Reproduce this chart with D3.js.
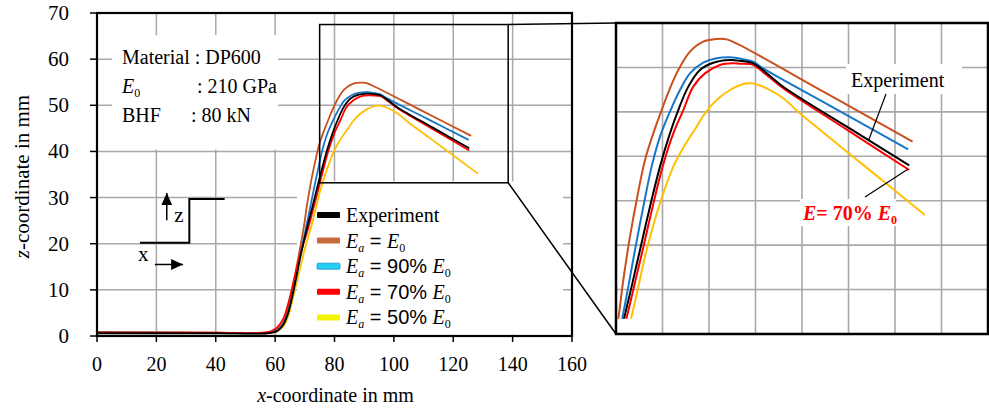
<!DOCTYPE html>
<html><head><meta charset="utf-8">
<script src="https://cdn.jsdelivr.net/npm/d3@7"></script>
<style>body{margin:0;background:#fff} svg{display:block}</style>
</head><body><svg id="c" width="989" height="411"></svg>
<script>
// ---------- data ----------
const xTicks = [0, 20, 40, 60, 80, 100, 120, 140, 160];
const zTicks = [0, 10, 20, 30, 40, 50, 60, 70];
const seriesKeys = ["ea50", "ea100", "ea90", "ea70", "experiment"];

const experiment = [[0,0.6],[20,0.6],[40,0.6],[57.5,0.6],[60.5,1.0],[62.4,2.1],[64.1,4.4],[65.6,8],[67.1,12.6],[68.8,18],[70.8,23.6],[72.2,27.1],[73.8,31.2],[75.71,36.06],[77.63,40.56],[79.54,44.3],[81.14,46.92],[83.06,49.55],[85.29,51.42],[87.85,52.24],[91.04,52.54],[92.95,52.46],[95.5,52.17],[97.74,51.23],[101.25,49.54],[113.3,45.1],[125.4,40.7]];
const ea100 = [[0,0.9],[20,0.8],[40,0.7],[57,0.7],[60,1.1],[62,2.2],[63.7,4.4],[65.1,8],[66.5,12.6],[68.1,18],[69.65,23.52],[70.6,27.82],[71.88,32.69],[73.16,36.81],[74.76,41.31],[76.35,44.3],[77.95,46.92],[79.54,49.36],[81.14,51.42],[83.38,53.48],[85.93,54.6],[88.48,54.9],[90.4,54.86],[92.3,54.4],[109.2,48.9],[126.04,43.36]];
const ea90 = [[0,0.7],[20,0.7],[40,0.65],[57.3,0.65],[60.3,1.1],[62.3,2.2],[64,4.4],[65.4,8],[66.9,12.6],[68.6,18],[70.41,23.52],[71.56,27.07],[72.84,31.19],[74.44,36.06],[76.03,40.56],[77.63,43.93],[79.54,46.74],[81.46,49.17],[83.38,51.04],[85.93,52.24],[88.48,52.73],[91.04,52.84],[93.59,52.62],[95.5,52.35],[97.4,51.6],[111.3,47.05],[125.2,42.5]];
const ea70 = [[0,0.7],[20,0.7],[40,0.7],[55.5,0.7],[58.5,1.0],[60.8,1.9],[62.8,3.8],[64.6,7.5],[66.4,12.3],[68.6,18],[71.05,23.14],[72.65,27.07],[74.31,31.19],[76.22,36.06],[78.14,40.56],[80.18,44.3],[82.1,46.92],[84.01,49.55],[86.25,51.04],[89.12,51.98],[91.68,52.17],[93.0,52.12],[95.5,51.98],[98.07,50.86],[101.25,49.36],[113.3,44.77],[125.4,40.18]];
const ea50 = [[0,0.8],[20,0.75],[40,0.65],[58,0.65],[61,1.1],[63,2.3],[64.6,4.6],[66,8.2],[68,13.5],[70.3,19.6],[72.2,23.78],[73.48,27.07],[75.07,31.19],[77.63,36.44],[80.18,40.56],[82.42,42.99],[84.65,45.05],[86.25,46.55],[88.48,48.05],[91.04,49.17],[93.6,49.85],[95.2,49.92],[98.07,49.36],[101.25,48.24],[104.45,46.55],[116.4,40.84],[128.4,35.13]];

const seriesData = {experiment, ea100, ea90, ea70, ea50};
const curveColor = {experiment:"#000000", ea100:"#c8501e", ea90:"#1677c8", ea70:"#ff0000", ea50:"#ffc000"};
const legendColor = {experiment:"#000000", ea100:"#c8693c", ea90:"#22d0f4", ea70:"#ff0000", ea50:"#f4f400"};
const legendOrder = ["experiment", "ea100", "ea90", "ea70", "ea50"];

// zoom window (main plot data units) and inset domain
const zoomBoxX = [75, 138.5], zoomBoxZ = [33.2, 67.5];
const insetX = [69.2, 140.5], insetZ = [21.75, 56.7];
const insetCols = 8, insetRows = 7;

// ---------- layout ----------
const svg = d3.select("#c");
const defs = svg.append("defs");
const serif = "'Liberation Serif','Times New Roman',serif";
const sans = "'Liberation Sans',Arial,sans-serif";
const M = {l:97, r:572, t:13, b:336};
const x = d3.scaleLinear().domain([0,160]).range([M.l, M.r]);
const z = d3.scaleLinear().domain([0,70]).range([M.b, M.t]);
const I = {l:616, r:988, t:23, b:334};
const xi = d3.scaleLinear().domain(insetX).range([I.l, I.r]);
const zi = d3.scaleLinear().domain(insetZ).range([I.b, I.t]);
const gridColor = "#a8a8a8";

// main grid
const g = svg.append("g");
g.selectAll(".vg").data(xTicks.slice(1,-1)).join("line")
  .attr("x1", d=>x(d)).attr("x2", d=>x(d)).attr("y1", M.t).attr("y2", M.b)
  .attr("stroke", gridColor).attr("stroke-width", 1.5);
g.selectAll(".hg").data(zTicks.slice(1,-1)).join("line")
  .attr("x1", M.l).attr("x2", M.r).attr("y1", d=>z(d)).attr("y2", d=>z(d))
  .attr("stroke", gridColor).attr("stroke-width", 1.5);

// white boxes (annotation, legend)
g.append("rect").attr("x", x(5)).attr("y", z(65.2)).attr("width", x(61)-x(5)).attr("height", z(40.4)-z(65.2)).attr("fill","#fff");
g.append("rect").attr("x", x(67.4)).attr("y", z(33.5)).attr("width", x(157)-x(67.4)).attr("height", z(0.3)-z(33.5)).attr("fill","#fff");

// ticks
g.selectAll(".yt").data(zTicks).join("line")
  .attr("x1", M.l-7).attr("x2", M.l).attr("y1", d=>z(d)).attr("y2", d=>z(d)).attr("stroke","#000").attr("stroke-width",1.5);
g.selectAll(".xt").data(xTicks).join("line")
  .attr("x1", d=>x(d)).attr("x2", d=>x(d)).attr("y1", M.b).attr("y2", M.b+6).attr("stroke","#000").attr("stroke-width",1.5);
g.selectAll(".yl").data(zTicks).join("text")
  .attr("x", 69).attr("y", d=>z(d)+7).attr("text-anchor","end")
  .attr("font-family", serif).attr("font-size", 21).text(d=>d);
g.selectAll(".xl").data(xTicks).join("text")
  .attr("x", d=>x(d)).attr("y", 371).attr("text-anchor","middle")
  .attr("font-family", serif).attr("font-size", 20).text(d=>d);

// axis titles
const xt = g.append("text").attr("x", (M.l+M.r)/2+1).attr("y", 402).attr("text-anchor","middle")
  .attr("font-family", serif).attr("font-size", 20);
xt.append("tspan").attr("font-style","italic").text("x");
xt.append("tspan").text("-coordinate in mm");
const yt = g.append("text").attr("transform", `translate(29,${(M.t+M.b)/2+2}) rotate(-90)`).attr("text-anchor","middle")
  .attr("font-family", serif).attr("font-size", 21);
yt.append("tspan").attr("font-style","italic").text("z");
yt.append("tspan").text("-coordinate in mm");

// curves (main)
const line = d3.line().x(d=>x(d[0])).y(d=>z(d[1])).curve(d3.curveCatmullRom.alpha(0.5));
g.selectAll(".c").data(seriesKeys).join("path")
  .attr("d", k=>line(seriesData[k])).attr("fill","none")
  .attr("stroke", k=>curveColor[k]).attr("stroke-width", 1.8);

// frame
g.append("rect").attr("x", M.l).attr("y", M.t).attr("width", M.r-M.l).attr("height", M.b-M.t)
  .attr("fill","none").attr("stroke","#000").attr("stroke-width", 2.2);

// zoom box + connectors
g.append("rect").attr("x", x(zoomBoxX[0])).attr("y", z(zoomBoxZ[1]))
  .attr("width", x(zoomBoxX[1])-x(zoomBoxX[0])).attr("height", z(zoomBoxZ[0])-z(zoomBoxZ[1]))
  .attr("fill","none").attr("stroke","#000").attr("stroke-width",1.5);
g.append("line").attr("x1", x(zoomBoxX[1])).attr("y1", z(zoomBoxZ[1])).attr("x2", I.l).attr("y2", I.t)
  .attr("stroke","#000").attr("stroke-width",1.5);
g.append("line").attr("x1", x(zoomBoxX[1])).attr("y1", z(zoomBoxZ[0])).attr("x2", I.l).attr("y2", I.b)
  .attr("stroke","#000").attr("stroke-width",1.5);

// annotation text
const ann = g.append("g").attr("font-family", serif).attr("font-size", 20);
ann.append("text").attr("x", 122).attr("y", 64).text("Material : DP600");
const e0 = ann.append("text").attr("x", 122).attr("y", 93);
e0.append("tspan").attr("font-style","italic").text("E");
e0.append("tspan").attr("font-size", 12).attr("dy", 4).text("0");
ann.append("text").attr("x", 197).attr("y", 93).text(": 210 GPa");
ann.append("text").attr("x", 122).attr("y", 122).text("BHF");
ann.append("text").attr("x", 191).attr("y", 122).text(": 80 kN");

// z/x direction sketch
const sk = [[14.5,20.2],[31.1,20.2],[31.1,29.7],[43,29.7]];
g.append("path").attr("d", d3.line().x(d=>x(d[0])).y(d=>z(d[1]))(sk)).attr("fill","none").attr("stroke","#000").attr("stroke-width",2);
defs.append("marker").attr("id","ah").attr("viewBox","0 0 10 10").attr("refX",10).attr("refY",5)
  .attr("markerUnits","userSpaceOnUse").attr("markerWidth",12).attr("markerHeight",12).attr("orient","auto")
  .append("path").attr("d","M0,0.5L10,5L0,9.5z").attr("fill","#000");
g.append("line").attr("x1", x(23.5)).attr("x2", x(23.5)).attr("y1", z(25.1)).attr("y2", z(31.0))
  .attr("stroke","#000").attr("stroke-width",1.5).attr("marker-end","url(#ah)");
g.append("line").attr("x1", x(19.5)).attr("x2", x(29.0)).attr("y1", z(15.5)).attr("y2", z(15.5))
  .attr("stroke","#000").attr("stroke-width",1.5).attr("marker-end","url(#ah)");
g.append("text").attr("x", x(26)).attr("y", z(24.7)).attr("font-family", serif).attr("font-size", 21).text("z");
g.append("text").attr("x", x(13.8)).attr("y", z(16.2)).attr("font-family", serif).attr("font-size", 21).text("x");

// legend
const lg = g.append("g").attr("transform","translate(317,215)");
const rowH = 25.6;
const legendLabels = {
  experiment: [["Experiment","serif",""]],
  ea100: [["E","serif","i"],["a","serif","is"],[" = ","sans",""],["E","serif","i"],["0","serif","s"]],
  ea90: [["E","serif","i"],["a","serif","is"],[" = 90% ","sans",""],["E","serif","i"],["0","serif","s"]],
  ea70: [["E","serif","i"],["a","serif","is"],[" = 70% ","sans",""],["E","serif","i"],["0","serif","s"]],
  ea50: [["E","serif","i"],["a","serif","is"],[" = 50% ","sans",""],["E","serif","i"],["0","serif","s"]]
};
legendOrder.forEach((k,i)=>{
  const yy = i*rowH;
  lg.append("rect").attr("x",0).attr("y",yy-3).attr("width",23).attr("height",6).attr("rx",1)
    .attr("fill", legendColor[k]).attr("stroke", k==="ea90" ? "#1a90d0" : "none").attr("stroke-width",0.8);
  const t = lg.append("text").attr("x",29).attr("y",yy+7).attr("font-size",20);
  let sub = false;
  legendLabels[k].forEach(([s,f,st])=>{
    const ts = t.append("tspan").text(s).attr("font-family", f==="serif"?serif:sans);
    if (st.includes("i")) ts.attr("font-style","italic");
    if (st.includes("s")) { ts.attr("font-size",12).attr("dy", 4); sub = true; }
    else if (sub) { ts.attr("dy", -4); sub = false; }
  });
});

// ---------- inset ----------
const ig = svg.append("g");
ig.append("rect").attr("x", I.l).attr("y", I.t).attr("width", I.r-I.l).attr("height", I.b-I.t).attr("fill","#fff");
const gc = d3.scaleLinear().domain([0, insetCols]).range([I.l, I.r]);
const gr = d3.scaleLinear().domain([0, insetRows]).range([I.t, I.b]);
ig.selectAll(".ivg").data(d3.range(1, insetCols)).join("line")
  .attr("x1", d=>gc(d)).attr("x2", d=>gc(d)).attr("y1", I.t).attr("y2", I.b).attr("stroke", gridColor).attr("stroke-width",1.6);
ig.selectAll(".ihg").data(d3.range(1, insetRows)).join("line")
  .attr("x1", I.l).attr("x2", I.r).attr("y1", d=>gr(d)).attr("y2", d=>gr(d)).attr("stroke", gridColor).attr("stroke-width",1.6);
// white label boxes
ig.append("rect").attr("x", 846).attr("y", 64).attr("width", 116).attr("height", 30).attr("fill","#fff");
ig.append("rect").attr("x", 800).attr("y", 199).attr("width", 96).attr("height", 27).attr("fill","#fff");

defs.append("clipPath").attr("id","ic").append("rect")
  .attr("x", I.l).attr("y", I.t).attr("width", I.r-I.l).attr("height", zi(23.45)-I.t);
const iline = d3.line().x(d=>xi(d[0])).y(d=>zi(d[1])).curve(d3.curveCatmullRom.alpha(0.5));
ig.append("g").attr("clip-path","url(#ic)").selectAll("path").data(seriesKeys).join("path")
  .attr("d", k=>iline(seriesData[k])).attr("fill","none")
  .attr("stroke", k=>curveColor[k]).attr("stroke-width", 2);
ig.append("rect").attr("x", I.l).attr("y", I.t).attr("width", I.r-I.l).attr("height", I.b-I.t)
  .attr("fill","none").attr("stroke","#000").attr("stroke-width",2.5);

// inset annotations
ig.append("text").attr("x", 851).attr("y", 87).attr("font-family", serif).attr("font-size", 20).text("Experiment");
ig.append("line").attr("x1", 886).attr("y1", 94).attr("x2", xi(117.6)).attr("y2", zi(43.5)).attr("stroke","#000").attr("stroke-width",1.2);
ig.append("line").attr("x1", xi(125.2)).attr("y1", zi(40.3)).attr("x2", 865).attr("y2", 197).attr("stroke","#000").attr("stroke-width",1.2);
const rt = ig.append("text").attr("x", 803).attr("y", 220).attr("font-family", serif).attr("font-size", 20)
  .attr("font-weight","bold").attr("fill","#ff0000");
rt.append("tspan").attr("font-style","italic").text("E");
rt.append("tspan").text("= 70% ");
rt.append("tspan").attr("font-style","italic").text("E");
rt.append("tspan").attr("font-size",12).attr("dy",4).text("0");
</script>
</body></html>
